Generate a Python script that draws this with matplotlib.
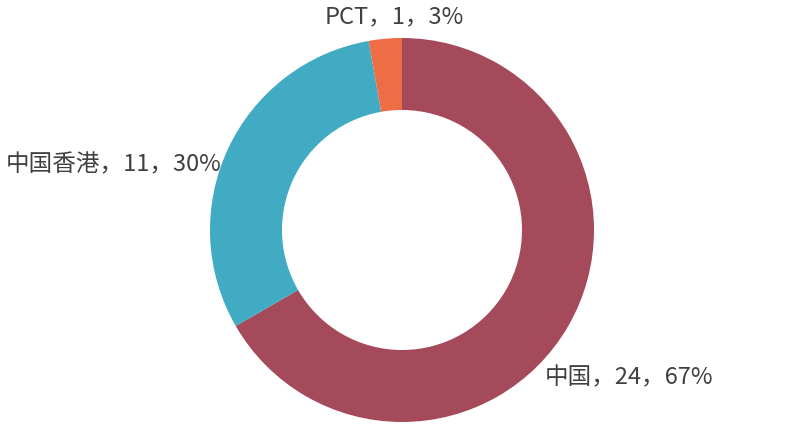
import matplotlib
matplotlib.use("Agg")
import matplotlib.pyplot as plt
import numpy as np

plt.rcParams['font.family'] = ['Noto Sans CJK SC', 'DejaVu Sans']

categories = ['中国', '中国香港', 'PCT']
values = [24, 11, 1]
percents = ['67%', '30%', '3%']
colors = ['#A54A5A', '#40ABC2', '#EE6D45']

W, H = 796, 444
fig = plt.figure(figsize=(W / 100, H / 100), dpi=100)
ax = fig.add_axes([0, 0, 1, 1])

cx, cy = 402, H - 230
R, r = 192, 120
ax.pie(values, colors=colors, startangle=90, counterclock=False,
       center=(cx, cy), radius=R, wedgeprops=dict(width=R - r, linewidth=0),
       frame=True)
ax.set_xlim(0, W)
ax.set_ylim(0, H)
ax.set_aspect('equal')
ax.axis('off')

labels = [f'{c}，{v}，{p}' for c, v, p in zip(categories, values, percents)]
tc = '#404040'
fs = 17
ax.text(545, H - 378, labels[0], ha='left', va='center', fontsize=fs, color=tc)
ax.text(221, H - 165, labels[1], ha='right', va='center', fontsize=fs, color=tc)
ax.text(394, H - 17, labels[2], ha='center', va='center', fontsize=fs, color=tc)

fig.savefig('out.png', dpi=100)
